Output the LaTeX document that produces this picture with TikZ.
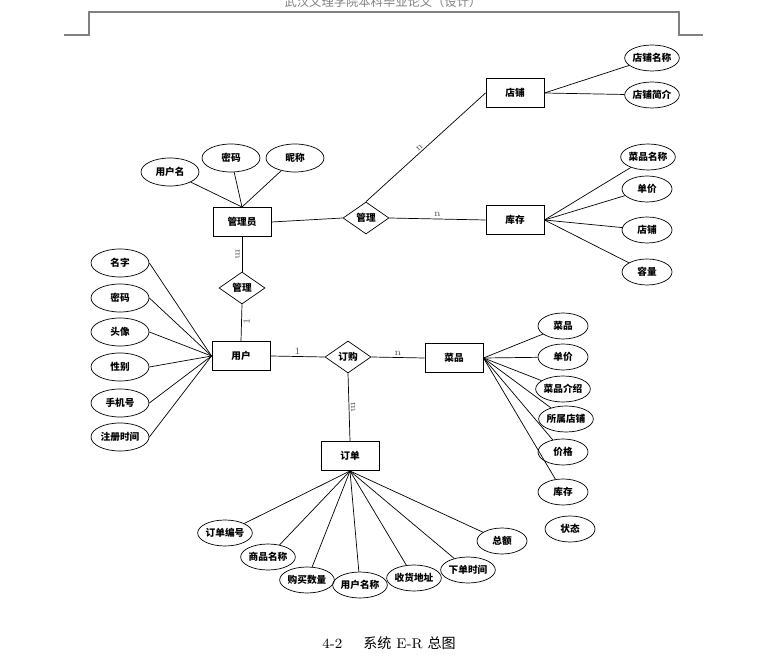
\documentclass[tikz,border=0pt]{standalone}
\usepackage{fontspec}
\newfontfamily\cjk{Noto Sans CJK SC}
\usetikzlibrary{shapes.geometric}

\begin{document}
\begin{tikzpicture}[x=0.02cm,y=-0.02cm,line width=0.4pt,
  cn/.style={font=\cjk\bfseries\fontsize{5.5}{6}\selectfont},
  entity/.style={cn,draw,line width=0.55pt,rectangle,minimum width=1.16cm,minimum height=0.58cm,inner sep=0pt},
  rel/.style={cn,draw,diamond,minimum width=0.92cm,minimum height=0.64cm,inner sep=0pt},
  attr/.style={cn,draw,ellipse,minimum width=1cm,minimum height=0.52cm,inner sep=0pt},
  wattr/.style={attr,minimum width=1.16cm,minimum height=0.56cm},
  card/.style={font=\fontsize{5.5}{6}\selectfont,text=black!65,inner sep=1pt}]
\useasboundingbox (0,0) rectangle (763,661);
% page header
\draw[gray,line width=0.6pt](64,35)--(89,35)--(89,12)--(679,12)--(679,35)--(703,35);
\node[font=\cjk\fontsize{7}{8}\selectfont,text=gray](hd) at (383,1.5){武汉文理学院本科毕业论文（设计）};
% entities
\node[entity](gly) at (242,222){管理员};
\node[entity](dp) at (515,93){店铺};
\node[entity](kc) at (515,220){库存};
\node[entity](yh) at (241,356){用户};
\node[entity](cp) at (454,358){菜品};
\node[entity](dd) at (350,456){订单};
% relations
\node[rel](glA) at (366,218){管理};
\node[rel](glB) at (242,288){管理};
\node[rel](dg) at (348,357){订购};
% attributes
\node[wattr](u1) at (170,172){用户名};
\node[wattr](u2) at (231,158){密码};
\node[wattr](u3) at (295,158){昵称};
\node[attr](s1) at (652,58){店铺名称};
\node[attr](s2) at (652,95){店铺简介};
\node[attr](k1) at (648,157){菜品名称};
\node[attr](k2) at (647,189){单价};
\node[attr](k3) at (647,230){店铺};
\node[attr](k4) at (647,272){容量};
\node[wattr](a1) at (120,263){名字};
\node[wattr](a2) at (120,298){密码};
\node[wattr](a3) at (120,332){头像};
\node[wattr](a4) at (120,367){性别};
\node[wattr](a5) at (120,403){手机号};
\node[wattr](a6) at (120,437){注册时间};
\node[attr](c1) at (563,326){菜品};
\node[attr](c2) at (563,357){单价};
\node[attr](c3) at (563,389){菜品介绍};
\node[attr](c4) at (566,419){所属店铺};
\node[attr](c5) at (563,452){价格};
\node[attr](c6) at (563,492){库存};
\node[attr](c7) at (570,529){状态};
\node[attr](o1) at (225,533){订单编号};
\node[attr](o2) at (268,557){商品名称};
\node[attr](o3) at (307,580){购买数量};
\node[attr](o4) at (360,585){用户名称};
\node[attr](o5) at (414,578){收货地址};
\node[attr](o6) at (468,570){下单时间};
\node[attr](o7) at (502,541){总额};
% relation lines
\draw(gly.east)--(glA.west);
\draw(glA.east)--node[card,above,pos=0.5]{n}(kc.west);
\draw(glA.north)--node[card,above,sloped,pos=0.47]{n}(dp.west);
\draw(gly.south)--node[card,below,sloped,pos=0.5]{m}(glB.north);
\draw(glB.south)--node[card,below,sloped,pos=0.47]{1}(yh.north);
\draw(yh.east)--node[card,above,pos=0.5]{1}(dg.west);
\draw(dg.east)--node[card,above,pos=0.5]{n}(cp.west);
\draw(dg.south)--node[card,above,sloped,pos=0.5]{m}(dd.north);
% attribute lines
\foreach \n in {u1,u2,u3}\draw(gly.north)--(\n);
\foreach \n in {s1,s2}\draw(dp.east)--(\n);
\foreach \n in {k1,k2,k3,k4}\draw(kc.east)--(\n);
\foreach \n in {a1,a2,a3,a4,a5,a6}\draw(yh.west)--(\n.east);
\foreach \n in {c1,c2,c3,c4,c5,c6}\draw(cp.east)--(\n);
\foreach \n in {o1,o2,o3,o4,o5,o6,o7}\draw(dd.south)--(\n);
% caption
\node[font=\fontsize{8}{9}\selectfont](cap) at (389,643){4-2\hspace{1.5em}{\cjk 系统} E-R {\cjk 总图}};
\end{tikzpicture}
\end{document}
